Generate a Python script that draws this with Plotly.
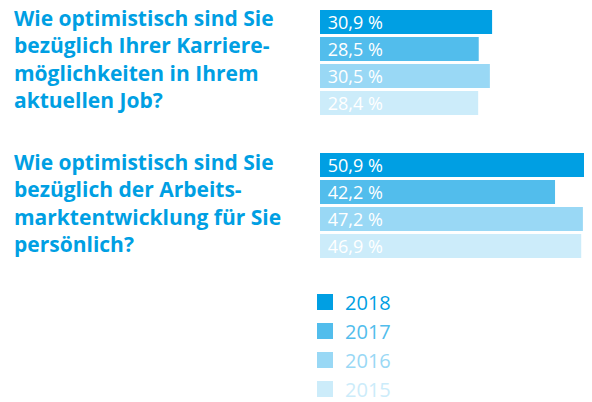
import plotly.graph_objects as go


# ==========================================================
# Data
# ==========================================================

questions = [
    "Wie optimistisch sind Sie<br>bezüglich Ihrer Karriere-<br>möglichkeiten in Ihrem<br>aktuellen Job?",
    "Wie optimistisch sind Sie<br>bezüglich der Arbeits-<br>marktentwicklung für Sie<br>persönlich?",
]

years = ["2018", "2017", "2016", "2015"]

values = {
    "2018": [30.9, 50.9],
    "2017": [28.5, 42.2],
    "2016": [30.5, 47.2],
    "2015": [28.4, 46.9],
}

colors = {
    "2018": "#009FE3",
    "2017": "#52BDEC",
    "2016": "#99D8F5",
    "2015": "#CCECFA",
}

category_ids = [0, 1]


# ==========================================================
# Figure
# ==========================================================

fig = go.Figure()

for year in years:

    fig.add_trace(
        go.Bar(
            x=values[year],
            y=category_ids,
            orientation="h",
            name=year,
            legendgroup=year,
            showlegend=False,
            marker=dict(color=colors[year], line=dict(width=0)),
            texttemplate="\u00a0%{x:.1f} %",
            textposition="inside",
            insidetextanchor="start",
            constraintext="none",
            textfont=dict(family="Open Sans", size=18, color="white"),
            hoverinfo="skip"
        )
    )

# legend entries with larger square swatches
for year in years:

    fig.add_trace(
        go.Scatter(
            x=[None],
            y=[None],
            mode="markers",
            marker=dict(symbol="square", size=17, color=colors[year]),
            name=f"<span style='color:{colors[year]}'>{year}</span>",
            legendgroup=year,
            showlegend=True
        )
    )

for i, q in enumerate(questions):

    fig.add_annotation(
        x=-1.1667,
        xref="paper",
        y=category_ids[i],
        yref="y",
        yshift=3,
        text=q,
        showarrow=False,
        xanchor="left",
        yanchor="middle",
        align="left",
        font=dict(family="Open Sans", size=21, color="#009FE3", weight="bold")
    )

# page body adds an 8px offset, so the figure is sized to fit the window
fig.update_layout(
    width=576,
    height=394,
    barmode="group",
    bargap=0.245,
    bargroupgap=0.111,
    separators=", ",
    plot_bgcolor="white",
    paper_bgcolor="white",
    margin=dict(l=312, r=0, t=0, b=0, autoexpand=False),
    showlegend=True,
    legend=dict(
        x=-0.0568,
        xanchor="left",
        y=0.3033,
        yanchor="top",
        font=dict(family="Open Sans", size=20),
        itemsizing="trace",
        tracegroupgap=0,
        bgcolor="rgba(0,0,0,0)"
    ),
    xaxis=dict(
        range=[0, 47.4],
        showgrid=False,
        zeroline=False,
        showticklabels=False,
        fixedrange=True
    ),
    yaxis=dict(
        type="linear",
        range=[2.374, -0.381],
        showgrid=False,
        zeroline=False,
        showticklabels=False,
        fixedrange=True
    )
)

fig.write_html("out.html")
